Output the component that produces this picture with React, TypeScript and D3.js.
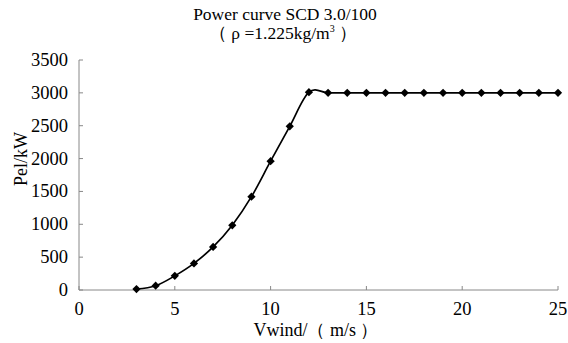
import React from "react";
import * as d3 from "d3";

const windSpeeds = [3, 4, 5, 6, 7, 8, 9, 10, 11, 12, 13, 14, 15, 16, 17, 18, 19, 20, 21, 22, 23, 24, 25];
const powerKW = [15, 65, 215, 405, 655, 985, 1420, 1960, 2490, 3010, 3000, 3000, 3000, 3000, 3000, 3000, 3000, 3000, 3000, 3000, 3000, 3000, 3000];
const xTicks = [0, 5, 10, 15, 20, 25];
const yTicks = [0, 500, 1000, 1500, 2000, 2500, 3000, 3500];

const W = 568, H = 343;
const FONT = "Liberation Serif, Times New Roman, serif";

export default function App() {
  const x = d3.scaleLinear().domain([0, 25]).range([79, 558]);
  const y = d3.scaleLinear().domain([0, 3500]).range([290, 60]);
  const pts = windSpeeds.map((v, i) => [v, powerKW[i]] as [number, number]);
  const line = d3.line<[number, number]>().x(d => x(d[0])).y(d => y(d[1])).curve(d3.curveCatmullRom.alpha(0));
  const marker = d3.symbol().type(d3.symbolSquare).size(34)();
  const axisColor = "#888";
  const ts = { fontFamily: FONT };
  return (
    <svg width={W} height={H} style={{ position: "absolute", left: 0, top: 0, background: "#fff", fontFamily: FONT }}>
      <rect width={W} height={H} fill="#fff" />
      <text x={285} y={20} textAnchor="middle" fontSize={17.5} style={ts}>Power curve SCD 3.0/100</text>
      <text x={283} y={39} textAnchor="middle" fontSize={17.5} style={ts}>（ ρ =1.225kg/m<tspan fontSize={10} dy={-7}>3</tspan><tspan dy={7}> ）</tspan></text>
      <line x1={x(0)} x2={x(25)} y1={y(0)} y2={y(0)} stroke={axisColor} />
      <line x1={x(0)} x2={x(0)} y1={y(0)} y2={y(3500)} stroke={axisColor} />
      {xTicks.map(t => (
        <g key={"x" + t}>
          <line x1={x(t)} x2={x(t)} y1={y(0)} y2={y(0) - 4} stroke={axisColor} />
          <text x={x(t)} y={315} textAnchor="middle" fontSize={18.5} style={ts}>{t}</text>
        </g>
      ))}
      {yTicks.map(t => (
        <g key={"y" + t}>
          <line x1={x(0)} x2={x(0) + 4} y1={y(t)} y2={y(t)} stroke={axisColor} />
          <text x={68} y={y(t) + 6} textAnchor="end" fontSize={18.5} style={ts}>{t}</text>
        </g>
      ))}
      <text x={316} y={336} textAnchor="middle" fontSize={18} style={ts}>Vwind/（ m/s ）</text>
      <text transform="translate(27,159) rotate(-90)" textAnchor="middle" fontSize={18} style={ts}>Pel/kW</text>
      <path d={line(pts) || ""} fill="none" stroke="#000" strokeWidth={1.7} />
      {pts.map((p, i) => (
        <path key={i} d={marker} transform={`translate(${x(p[0])},${y(p[1])}) rotate(45)`} fill="#000" />
      ))}
    </svg>
  );
}
